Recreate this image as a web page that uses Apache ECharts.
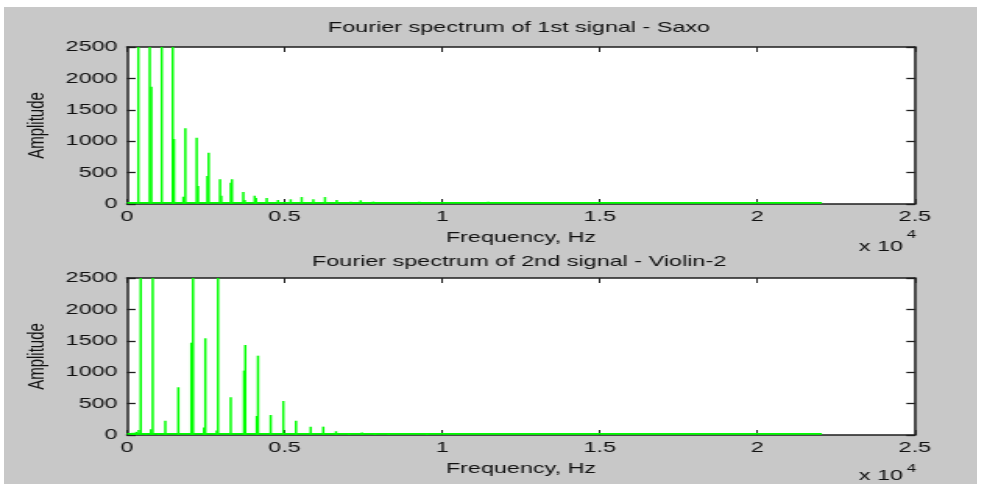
<!DOCTYPE html>
<html>
<head>
<meta charset="utf-8">
<script src="https://cdn.jsdelivr.net/npm/echarts@6/dist/echarts.min.js"></script>
<style>
  html, body { margin: 0; padding: 0; background: #fff; }
  #wrap { position: relative; width: 987px; height: 484px; overflow: hidden; background: #fff; }
  #panel { position: absolute; left: 4px; top: 7px; width: 973px; height: 477px; background: #c8c8c8; }
  #chart { position: absolute; left: 0; top: 0; width: 633px; height: 484px; transform-origin: 0 0; }
</style>
</head>
<body>
<div id="wrap"><div id="panel"></div><div id="chart"></div></div>
<script>
// Spectral peaks of the saxophone recording (Hz, amplitude)
const saxoHz  = [358, 720, 771, 1101, 1450, 1491, 1786, 1850, 2211, 2253, 2548, 2592, 2951, 2992,
                 3290, 3331, 3690, 3734, 4051, 4093, 4432, 4791, 5194, 5543, 5911, 6282, 6653,
                 7097, 7414, 7814, 9274, 11463];
const saxoAmp = [3600, 3300, 1868, 3900, 3100, 1035, 116, 1205, 1056, 287, 446, 817, 393, 132,
                 339, 393, 191, 64, 132, 96, 96, 64, 75, 111, 75, 111, 64,
                 37, 59, 37, 37, 37];

// Spectral peaks of the violin recording (Hz, amplitude)
const violinHz  = [180, 290, 371, 435, 600, 761, 815, 1000, 1215, 1628, 2040, 2094, 2443, 2484,
                   2846, 2887, 3290, 3712, 3753, 4115, 4156, 4559, 4959, 5362, 5828, 6228,
                   6631, 7043, 7456, 7868, 8303, 9518];
const violinAmp = [35, 50, 80, 3500, 30, 90, 3200, 30, 228, 760, 1470, 3800, 120, 1540,
                   70, 3400, 600, 1025, 1433, 302, 1263, 318, 541, 228, 133, 133,
                   60, 30, 40, 30, 30, 30];

// Noise floor up to the Nyquist frequency
const floorHz  = [0, 22050];
const floorAmp = [18, 18];

// Tick labels
const xTickLabels = ['0', '0.5', '1', '1.5', '2', '2.5'];
const yTickLabels = ['0', '500', '1000', '1500', '2000', '2500'];

const titles = ['Fourier spectrum of 1st signal - Saxo', 'Fourier spectrum of 2nd signal - Violin-2'];

// The figure is drawn narrow and stretched horizontally, like the wide window it was exported from
const W = 633, SX = 987 / W;
const chartEl = document.getElementById('chart');
chartEl.style.transform = 'scaleX(' + SX + ')';

const FONT = '"Liberation Sans", Arial, sans-serif';
const TXT = '#111';
const GREEN = '#00ff00';
const AX = '#1e1e1e';

const gridLeft = 81.45, gridWidth = 505.3, gridH = 157;
const gridTops = [47, 278];

function xAxes(gi) {
  return [
    {
      type: 'value', gridIndex: gi, position: 'bottom', min: 0, max: 25000, interval: 5000,
      name: 'Frequency, Hz', nameLocation: 'middle', nameGap: 26,
      nameTextStyle: { fontFamily: FONT, fontSize: 15, color: TXT },
      axisLine: { show: true, onZero: false, lineStyle: { color: AX, width: 1.5 } },
      axisTick: { show: true, inside: true, length: 5, lineStyle: { color: AX, width: 1 } },
      axisLabel: { margin: 5, fontFamily: FONT, fontSize: 15, color: TXT,
                   formatter: (v, i) => xTickLabels[i] },
      splitLine: { show: false }
    },
    {
      type: 'value', gridIndex: gi, position: 'top', min: 0, max: 25000, interval: 5000,
      axisLine: { show: true, onZero: false, lineStyle: { color: AX, width: 1.5 } },
      axisTick: { show: true, inside: true, length: 5, lineStyle: { color: AX, width: 1 } },
      axisLabel: { show: false },
      splitLine: { show: false }
    }
  ];
}

function yAxes(gi) {
  return [
    {
      type: 'value', gridIndex: gi, position: 'left', min: 0, max: 2500, interval: 500,
      name: 'Amplitude', nameLocation: 'middle', nameGap: 47, nameRotate: 90,
      nameTextStyle: { fontFamily: FONT, fontSize: 15, color: TXT },
      axisLine: { show: true, onZero: false, lineStyle: { color: AX, width: 1.5 } },
      axisTick: { show: true, inside: true, length: 5.5, lineStyle: { color: AX, width: 1.3 } },
      axisLabel: { margin: 6, fontFamily: FONT, fontSize: 15, color: TXT,
                   formatter: (v, i) => yTickLabels[i] },
      splitLine: { show: false }
    },
    {
      type: 'value', gridIndex: gi, position: 'right', min: 0, max: 2500, interval: 500,
      axisLine: { show: true, onZero: false, lineStyle: { color: AX, width: 1.5 } },
      axisTick: { show: true, inside: true, length: 5.5, lineStyle: { color: AX, width: 1.3 } },
      axisLabel: { show: false },
      splitLine: { show: false }
    }
  ];
}

function spectrumSeries(gi, hz, amp) {
  return [
    {
      type: 'line', xAxisIndex: gi * 2, yAxisIndex: gi * 2,
      data: floorHz.map((f, i) => [f, floorAmp[i]]),
      showSymbol: false, silent: true,
      lineStyle: { color: GREEN, width: 1.8 }
    },
    {
      type: 'bar', xAxisIndex: gi * 2, yAxisIndex: gi * 2,
      data: hz.map((f, i) => [f, amp[i]]),
      barWidth: 1.5, clip: true, silent: true,
      itemStyle: { color: GREEN }
    }
  ];
}

const graphics = [];
[28, 262].forEach((y, i) => {
  graphics.push({
    type: 'text', x: 332.9, y: y,
    style: { text: titles[i], fontFamily: FONT, fontSize: 15, fill: TXT,
             align: 'center', verticalAlign: 'middle' }
  });
});
// Axis multiplier "x 10^4" under each frequency axis
[[246.5, 234.5], [476, 468.5]].forEach(([yb, ye]) => {
  graphics.push({
    type: 'text', x: 579.2, y: yb,
    style: { text: 'x 10', fontFamily: FONT, fontSize: 15, fill: TXT, align: 'right', verticalAlign: 'middle' }
  });
  graphics.push({
    type: 'text', x: 581.6, y: ye,
    style: { text: '4', fontFamily: FONT, fontSize: 11, fill: TXT, align: 'left', verticalAlign: 'middle' }
  });
});

const chart = echarts.init(chartEl, null, { renderer: 'canvas', width: W, height: 484, devicePixelRatio: 1 });
chart.setOption({
  backgroundColor: 'transparent',
  animation: false,
  grid: gridTops.map(t => ({
    left: gridLeft, top: t, width: gridWidth, height: gridH,
    show: true, backgroundColor: '#ffffff', borderWidth: 0
  })),
  xAxis: [...xAxes(0), ...xAxes(1)],
  yAxis: [...yAxes(0), ...yAxes(1)],
  series: [...spectrumSeries(0, saxoHz, saxoAmp), ...spectrumSeries(1, violinHz, violinAmp)],
  graphic: graphics
});
</script>
</body>
</html>
